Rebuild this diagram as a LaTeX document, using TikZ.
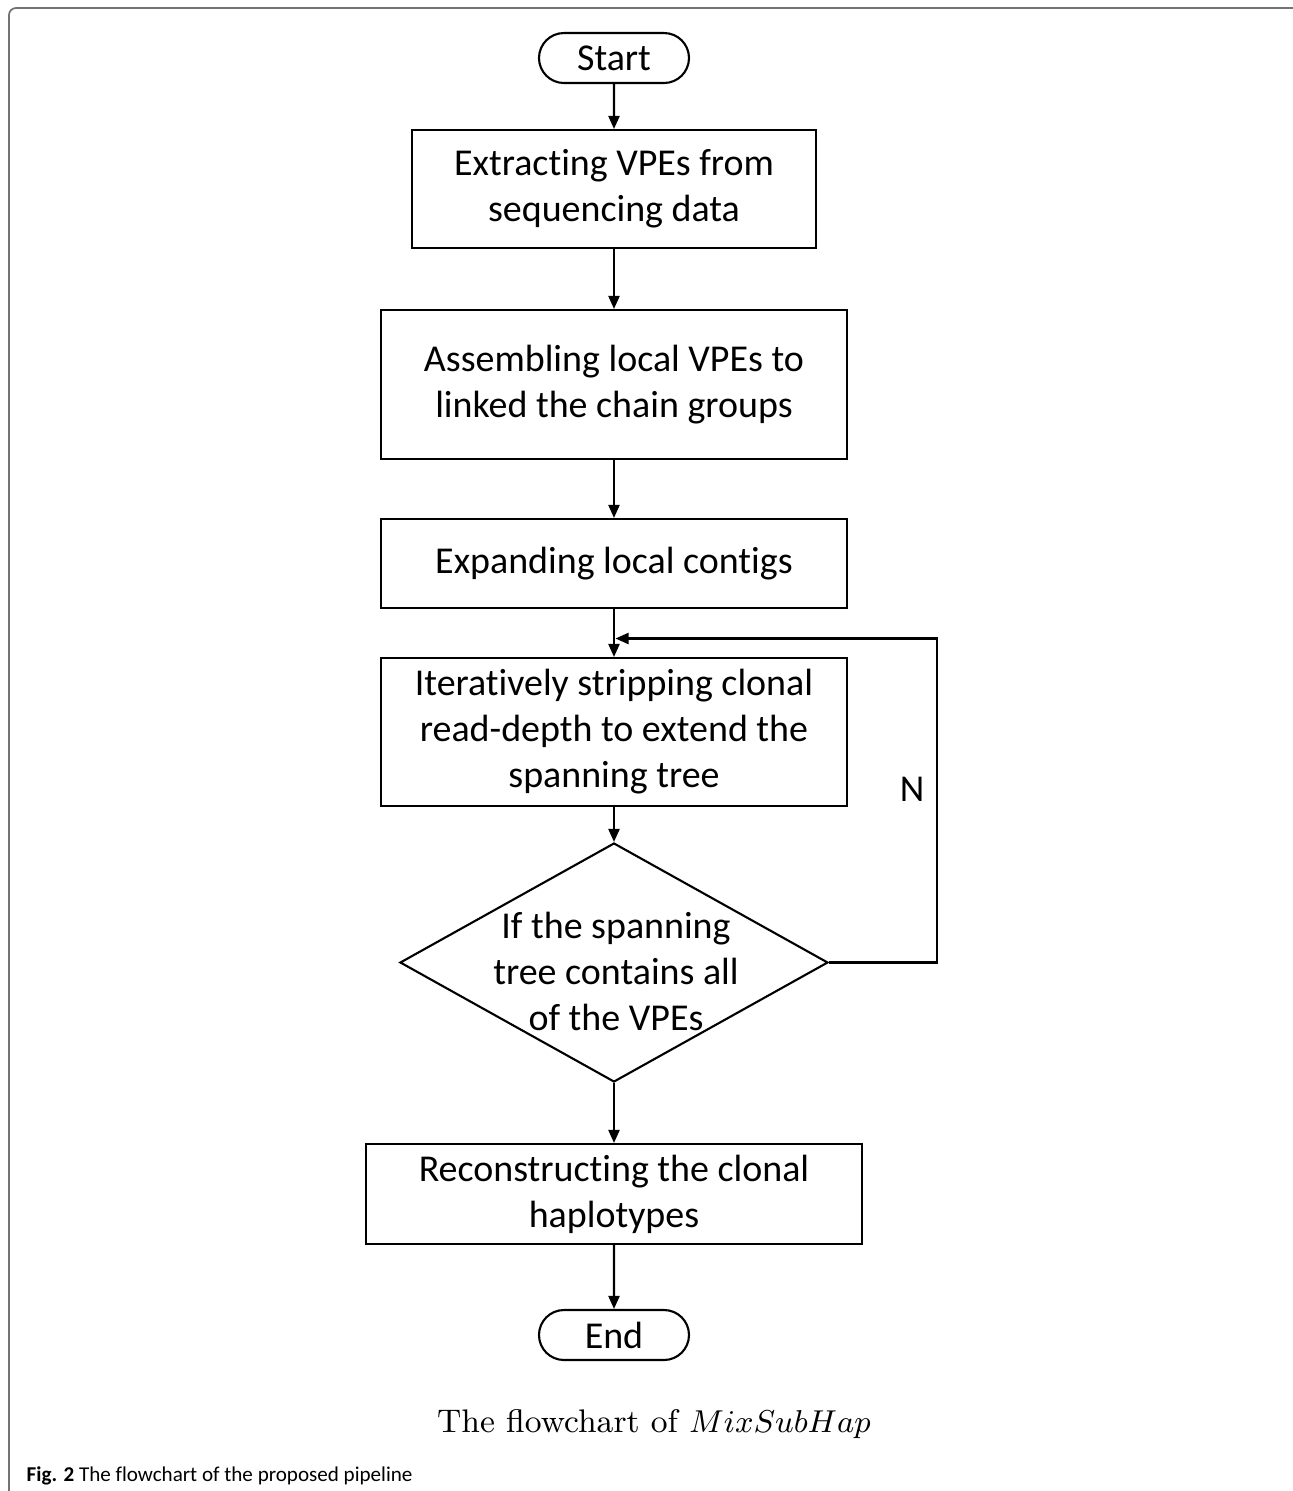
\documentclass[tikz,border=0pt]{standalone}
\usepackage{fontspec}
\usetikzlibrary{shapes.geometric,shapes.misc,arrows.meta}
\newfontfamily\calibri[Ligatures=NoCommon]{Carlito}

\tikzset{
  flow/.style={line width=0.6pt,-{Triangle[length=1.3mm,width=1.1mm]}},
  stepbox/.style={draw,line width=0.6pt,align=center,inner sep=0pt,
    font=\calibri\fontsize{10.8}{13.1}\selectfont},
  terminal/.style={stepbox,rounded rectangle,minimum width=1.5cm,minimum height=0.5cm},
  decision/.style={draw,line width=0.6pt,diamond,inner sep=0pt,
    minimum width=4.28cm,minimum height=2.39cm},
}

\begin{document}
\begin{tikzpicture}
  \useasboundingbox (0,0) rectangle (12.93,-14.91);
  % outer frame
  \begin{scope}
    \clip (0,0) rectangle (12.93,-14.91);
    \draw[gray!90!black,line width=0.5pt,rounded corners=0.07cm]
      (0.09,-0.08) rectangle (13.1,-15.3);
  \end{scope}

  \node[terminal] (start) at (6.14,-0.58) {Start};
  \node[stepbox,minimum width=4.04cm,minimum height=1.18cm] (extract) at (6.14,-1.89)
    {Extracting VPEs from\\sequencing data};
  \node[stepbox,minimum width=4.66cm,minimum height=1.49cm] (assemble) at (6.14,-3.845)
    {Assembling local VPEs to\\linked the chain groups};
  \node[stepbox,minimum width=4.66cm,minimum height=0.89cm] (expand) at (6.14,-5.635)
    {Expanding local contigs};
  \node[stepbox,minimum width=4.66cm,minimum height=1.48cm] (strip) at (6.14,-7.32)
    {Iteratively stripping clonal\\read-depth to extend the\\spanning tree};
  \node[decision] (check) at (6.14,-9.625) {};
  \node[stepbox,draw=none] (checktext) at (6.16,-9.71)
    {If the spanning\\tree contains all\\of the VPEs};
  \node[stepbox,minimum width=4.96cm,minimum height=1.0cm] (rebuild) at (6.14,-11.94)
    {Reconstructing the clonal\\haplotypes};
  \node[terminal] (end) at (6.14,-13.35) {End};

  \coordinate (join) at (6.155,-6.385);
  \coordinate (turn) at (9.37,-9.625);

  \draw[flow] (start) -- (extract);
  \draw[flow] (extract) -- (assemble);
  \draw[flow] (assemble) -- (expand);
  \draw[flow] (expand) -- (strip);
  \draw[flow] (strip) -- (check);
  \draw[flow] (check) -- (rebuild);
  \draw[flow] (rebuild) -- (end);
  \draw[flow] (check.east) -- (turn) |- (join);
  \node[font=\calibri\fontsize{10.8}{13.1}\selectfont] (no) at (9.12,-7.89) {N};

  % captions
  \node[font=\fontsize{9.3}{11}\selectfont] (title) at (6.54,-14.24)
    {The flowchart of $MixSubHap$};
  \node[anchor=west,inner sep=0pt,font=\calibri\fontsize{6.0}{7.2}\selectfont] (figcap) at (0.26,-14.76)
    {\textbf{Fig. 2} The flowchart of the proposed pipeline};
\end{tikzpicture}
\end{document}
